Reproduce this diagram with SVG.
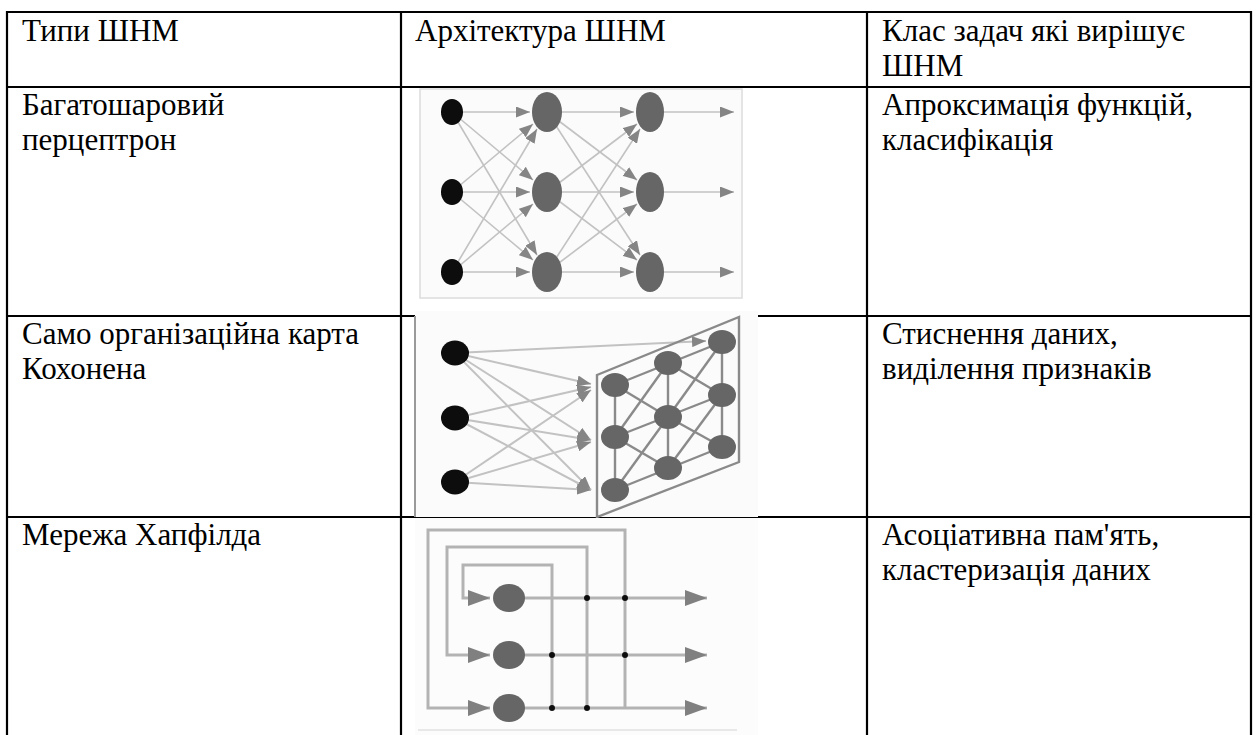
<svg xmlns="http://www.w3.org/2000/svg" width="1259" height="735" viewBox="0 0 1259 735">
<style>
.t{font-family:"Liberation Serif","Times New Roman",serif;font-size:31px;fill:#000}
.grid{stroke:#000;stroke-width:2.2;fill:none}
.ln{stroke:#c2c2c2;stroke-width:1.6;fill:none}
.kl{stroke:#c2c2c2;stroke-width:2;fill:none}
.kg{stroke:#8a8a8a;stroke-width:2.4;fill:none}
.hl{stroke:#b3b3b3;stroke-width:3;fill:none}
.blk{fill:#0a0a0a}
.gry{fill:#666}
</style>
<defs>
<marker id="arr" viewBox="0 0 14 11" refX="14" refY="5.5" markerWidth="14" markerHeight="11" markerUnits="userSpaceOnUse" orient="auto"><path d="M0,0 L14,5.5 L0,11 z" fill="#858585"/></marker>
<marker id="arrL" viewBox="0 0 22 16" refX="22" refY="8" markerWidth="22" markerHeight="16" markerUnits="userSpaceOnUse" orient="auto"><path d="M0,0 L22,8 L0,16 z" fill="#808080"/></marker>
<filter id="soft" x="-5%" y="-5%" width="110%" height="110%"><feGaussianBlur stdDeviation="0.7"/></filter>
</defs>

<g id="table">
<line class="grid" x1="6" y1="12" x2="1252" y2="12"/>
<line class="grid" x1="6" y1="87" x2="1252" y2="87"/>
<line class="grid" x1="6" y1="316" x2="1252" y2="316"/>
<line class="grid" x1="6" y1="517" x2="1252" y2="517"/>
<line class="grid" x1="7" y1="11" x2="7" y2="735"/>
<line class="grid" x1="401" y1="11" x2="401" y2="735"/>
<line class="grid" x1="867" y1="11" x2="867" y2="735"/>
<line class="grid" x1="1251" y1="11" x2="1251" y2="735"/>
</g>

<g id="header">
<text class="t" x="22" y="41">Типи ШНМ</text>
<text class="t" x="415" y="41">Архітектура ШНМ</text>
<text class="t" x="882" y="41">Клас задач які вирішує</text>
<text class="t" x="882" y="75.5">ШНМ</text>
</g>

<g id="row-perceptron">
<text class="t" x="22" y="115">Багатошаровий</text>
<text class="t" x="22" y="149.5">перцептрон</text>
<text class="t" x="882" y="115">Апроксимація функцій,</text>
<text class="t" x="882" y="149.5">класифікація</text>
</g>

<g id="row-kohonen">
<text class="t" x="22" y="344">Само організаційна карта</text>
<text class="t" x="22" y="378.5">Кохонена</text>
<text class="t" x="882" y="344">Стиснення даних,</text>
<text class="t" x="882" y="378.5">виділення признаків</text>
</g>

<g id="row-hopfield">
<text class="t" x="22" y="545">Мережа Хапфілда</text>
<text class="t" x="882" y="545">Асоціативна пам'ять,</text>
<text class="t" x="882" y="579.5">кластеризація даних</text>
</g>

<g id="img-perceptron" filter="url(#soft)">
<rect x="420" y="89" width="322" height="209" fill="#fbfbfb" stroke="#dcdcdc" stroke-width="1.5"/>
<g id="perceptron-connectors">
<line class="ln" x1="452" y1="112" x2="530" y2="112" marker-end="url(#arr)"/>
<line class="ln" x1="452" y1="112" x2="533" y2="180" marker-end="url(#arr)"/>
<line class="ln" x1="452" y1="112" x2="537" y2="255" marker-end="url(#arr)"/>
<line class="ln" x1="452" y1="192" x2="533" y2="124" marker-end="url(#arr)"/>
<line class="ln" x1="452" y1="192" x2="530" y2="192" marker-end="url(#arr)"/>
<line class="ln" x1="452" y1="192" x2="533" y2="260" marker-end="url(#arr)"/>
<line class="ln" x1="452" y1="272" x2="537" y2="129" marker-end="url(#arr)"/>
<line class="ln" x1="452" y1="272" x2="533" y2="204" marker-end="url(#arr)"/>
<line class="ln" x1="452" y1="272" x2="530" y2="272" marker-end="url(#arr)"/>
<line class="ln" x1="547" y1="112" x2="634" y2="112" marker-end="url(#arr)"/>
<line class="ln" x1="547" y1="112" x2="637" y2="180" marker-end="url(#arr)"/>
<line class="ln" x1="547" y1="112" x2="640" y2="255" marker-end="url(#arr)"/>
<line class="ln" x1="547" y1="192" x2="637" y2="124" marker-end="url(#arr)"/>
<line class="ln" x1="547" y1="192" x2="634" y2="192" marker-end="url(#arr)"/>
<line class="ln" x1="547" y1="192" x2="637" y2="260" marker-end="url(#arr)"/>
<line class="ln" x1="547" y1="272" x2="640" y2="129" marker-end="url(#arr)"/>
<line class="ln" x1="547" y1="272" x2="637" y2="204" marker-end="url(#arr)"/>
<line class="ln" x1="547" y1="272" x2="634" y2="272" marker-end="url(#arr)"/>
<line class="ln" x1="650" y1="112" x2="734" y2="112" marker-end="url(#arr)"/>
<line class="ln" x1="650" y1="192" x2="734" y2="192" marker-end="url(#arr)"/>
<line class="ln" x1="650" y1="272" x2="734" y2="272" marker-end="url(#arr)"/>
</g>
<g id="p-in1"><ellipse class="blk" cx="452" cy="112" rx="11" ry="13"/></g>
<g id="p-in2"><ellipse class="blk" cx="452" cy="192" rx="11" ry="13"/></g>
<g id="p-in3"><ellipse class="blk" cx="452" cy="272" rx="11" ry="13"/></g>
<g id="p-h1"><ellipse class="gry" cx="547" cy="112" rx="15" ry="20"/></g>
<g id="p-h2"><ellipse class="gry" cx="547" cy="192" rx="15" ry="20"/></g>
<g id="p-h3"><ellipse class="gry" cx="547" cy="272" rx="15" ry="20"/></g>
<g id="p-o1"><ellipse class="gry" cx="650" cy="112" rx="14" ry="20"/></g>
<g id="p-o2"><ellipse class="gry" cx="650" cy="192" rx="14" ry="20"/></g>
<g id="p-o3"><ellipse class="gry" cx="650" cy="272" rx="14" ry="20"/></g>
</g>

<g id="img-kohonen" filter="url(#soft)">
<rect x="415" y="311" width="343" height="206" fill="#fbfbfb"/>
<line x1="415" y1="316" x2="415" y2="517" stroke="#9a9a9a" stroke-width="2"/>
<g id="kohonen-connectors">
<line class="kl" x1="455" y1="353" x2="591" y2="384" marker-end="url(#arr)"/>
<line class="kl" x1="455" y1="353" x2="591" y2="440" marker-end="url(#arr)"/>
<line class="kl" x1="455" y1="353" x2="591" y2="490" marker-end="url(#arr)"/>
<line class="kl" x1="455" y1="353" x2="706" y2="341" marker-end="url(#arr)"/>
<line class="kl" x1="455" y1="418" x2="591" y2="387" marker-end="url(#arr)"/>
<line class="kl" x1="455" y1="418" x2="591" y2="440" marker-end="url(#arr)"/>
<line class="kl" x1="455" y1="418" x2="591" y2="490" marker-end="url(#arr)"/>
<line class="kl" x1="455" y1="482" x2="591" y2="390" marker-end="url(#arr)"/>
<line class="kl" x1="455" y1="482" x2="591" y2="442" marker-end="url(#arr)"/>
<line class="kl" x1="455" y1="482" x2="591" y2="490" marker-end="url(#arr)"/>
<polygon class="kg" points="597,375 739,317 739,462 597,517"/>
<line class="kg" x1="615" y1="385" x2="615" y2="490"/>
<line class="kg" x1="668" y1="363" x2="668" y2="468"/>
<line class="kg" x1="722" y1="342" x2="722" y2="447"/>
<line class="kg" x1="615" y1="385" x2="722" y2="342"/>
<line class="kg" x1="615" y1="437" x2="722" y2="395"/>
<line class="kg" x1="615" y1="490" x2="722" y2="447"/>
<line class="kg" x1="615" y1="385" x2="668" y2="417"/>
<line class="kg" x1="615" y1="437" x2="668" y2="363"/>
<line class="kg" x1="615" y1="437" x2="668" y2="468"/>
<line class="kg" x1="615" y1="490" x2="668" y2="417"/>
<line class="kg" x1="668" y1="363" x2="722" y2="395"/>
<line class="kg" x1="668" y1="417" x2="722" y2="342"/>
<line class="kg" x1="668" y1="417" x2="722" y2="447"/>
<line class="kg" x1="668" y1="468" x2="722" y2="395"/>
</g>
<g id="k-in1"><ellipse class="blk" cx="455" cy="353" rx="14" ry="12.5"/></g>
<g id="k-in2"><ellipse class="blk" cx="455" cy="418" rx="14" ry="12.5"/></g>
<g id="k-in3"><ellipse class="blk" cx="455" cy="482" rx="14" ry="12.5"/></g>
<g id="k-n11"><ellipse class="gry" cx="615" cy="385" rx="14" ry="12"/></g>
<g id="k-n12"><ellipse class="gry" cx="615" cy="437" rx="14" ry="12"/></g>
<g id="k-n13"><ellipse class="gry" cx="615" cy="490" rx="14" ry="12"/></g>
<g id="k-n21"><ellipse class="gry" cx="668" cy="363" rx="14" ry="12"/></g>
<g id="k-n22"><ellipse class="gry" cx="668" cy="417" rx="14" ry="12"/></g>
<g id="k-n23"><ellipse class="gry" cx="668" cy="468" rx="14" ry="12"/></g>
<g id="k-n31"><ellipse class="gry" cx="722" cy="342" rx="14" ry="12"/></g>
<g id="k-n32"><ellipse class="gry" cx="722" cy="395" rx="14" ry="12"/></g>
<g id="k-n33"><ellipse class="gry" cx="722" cy="447" rx="14" ry="12"/></g>
</g>

<g id="img-hopfield" filter="url(#soft)">
<rect x="415" y="518" width="343" height="217" fill="#fcfcfc"/>
<line x1="418" y1="730" x2="737" y2="730" stroke="#e2e2e2" stroke-width="1.5"/>
<g id="hopfield-connectors">
<path class="hl" d="M625,708 V530 H428 V708 H490" marker-end="url(#arrL)"/>
<path class="hl" d="M587,708 V547 H447 V655 H490" marker-end="url(#arrL)"/>
<path class="hl" d="M552,708 V565 H463 V598 H490" marker-end="url(#arrL)"/>
<line class="hl" x1="509" y1="598" x2="707" y2="598" marker-end="url(#arrL)"/>
<line class="hl" x1="509" y1="655" x2="707" y2="655" marker-end="url(#arrL)"/>
<line class="hl" x1="509" y1="708" x2="707" y2="708" marker-end="url(#arrL)"/>
<circle cx="587" cy="598" r="3" fill="#111"/>
<circle cx="625" cy="598" r="3" fill="#111"/>
<circle cx="552" cy="655" r="3" fill="#111"/>
<circle cx="625" cy="655" r="3" fill="#111"/>
<circle cx="552" cy="708" r="3" fill="#111"/>
<circle cx="587" cy="708" r="3" fill="#111"/>
</g>
<g id="h-n1"><ellipse class="gry" cx="509" cy="598" rx="16" ry="14"/></g>
<g id="h-n2"><ellipse class="gry" cx="509" cy="655" rx="16" ry="14"/></g>
<g id="h-n3"><ellipse class="gry" cx="509" cy="708" rx="16" ry="14"/></g>
</g>
</svg>
